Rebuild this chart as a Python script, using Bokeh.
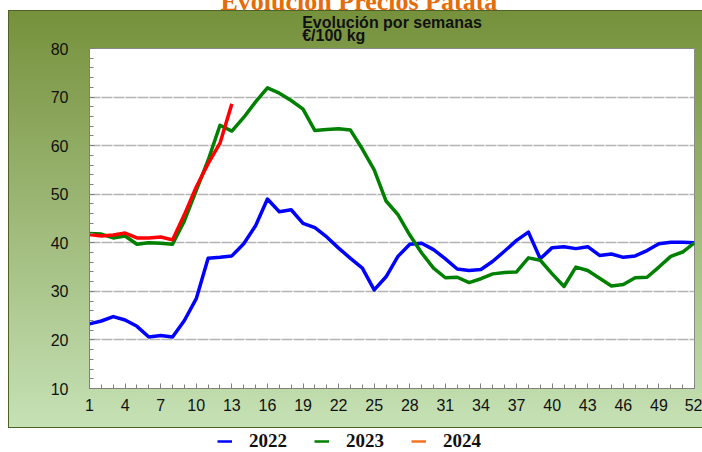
from bokeh.plotting import figure
from bokeh.layouts import column
from bokeh.models import FixedTicker, Legend, LegendItem, Title, Range1d
from bokeh.embed import file_html
from bokeh.resources import INLINE

weeks = list(range(1, 53))
weeks_2024 = list(range(1, 14))
y2022 = [23.3, 23.9, 24.8, 24.1, 22.8, 20.6, 20.9, 20.6, 24.0, 28.5,
         36.8, 37.0, 37.3, 39.8, 43.5, 49.0, 46.4, 46.8, 44.0, 43.1,
         41.2, 38.9, 36.8, 34.8, 30.3, 33.0, 37.2, 39.7, 39.9, 38.6,
         36.7, 34.6, 34.3, 34.5, 36.2, 38.3, 40.5, 42.2, 36.7, 39.0,
         39.2, 38.8, 39.2, 37.4, 37.7, 37.0, 37.3, 38.4, 39.8, 40.1,
         40.1, 40.0]
y2023 = [41.9, 41.8, 41.0, 41.4, 39.7, 40.0, 39.9, 39.7, 44.5, 50.8,
         57.0, 64.2, 63.0, 65.8, 69.0, 71.9, 70.8, 69.3, 67.5, 63.1,
         63.3, 63.5, 63.2, 59.3, 55.0, 48.6, 45.8, 41.6, 37.9, 34.8,
         32.8, 32.9, 31.8, 32.6, 33.6, 33.9, 34.0, 36.9, 36.4, 33.6,
         31.0, 35.0, 34.3, 32.7, 31.1, 31.4, 32.8, 32.9, 35.0, 37.2,
         38.1, 40.0]
y2024 = [41.7, 41.4, 41.6, 42.0, 41.0, 41.0, 41.2, 40.6, 45.8, 51.5,
         56.3, 60.5, 68.6]
series_labels = ["2022", "2023", "2024"]
x_ticks = list(range(1, 53, 3))
y_ticks = list(range(10, 81, 10))

H = 24  # extra canvas above the window, hidden by a negative margin
p = figure(width=702, height=430 + H, x_range=Range1d(1, 52), y_range=Range1d(10, 80),
           output_backend="svg", toolbar_location=None,
           min_border_left=89, min_border_right=8, min_border_top=48 + H, min_border_bottom=42)
p.title_location = None
p.margin = (-H, 0, 0, 0)
p.styles = {"background": "linear-gradient(#76913b, #c6e1b5) 9px 35px / 700px 416px no-repeat, "
                          "linear-gradient(#4e6128, #4e6128) 8px 34px / 702px 418px no-repeat, white"}
p.border_fill_color = None
p.background_fill_color = "white"
p.outline_line_color = "#8a8a8a"

p.xgrid.visible = False
p.ygrid.grid_line_color = "#b4b4b4"
p.ygrid.grid_line_width = 1.5
p.ygrid.grid_line_dash = "11 1"

p.xaxis.ticker = FixedTicker(ticks=x_ticks, minor_ticks=weeks)
p.yaxis.ticker = FixedTicker(ticks=y_ticks, minor_ticks=list(range(10, 81, 2)))
for ax in (p.xaxis[0], p.yaxis[0]):
    ax.axis_line_color = "#808080"
    ax.major_tick_line_color = "#808080"
    ax.minor_tick_line_color = "#808080"
    ax.major_tick_in = 5
    ax.major_tick_out = 0
    ax.minor_tick_in = 4
    ax.minor_tick_out = 0
    ax.major_label_text_font = "Liberation Sans"
    ax.major_label_text_font_size = "16px"
    ax.major_label_text_color = "#111111"
p.xaxis.major_label_standoff = 10
p.yaxis.major_label_standoff = 21

p.line(weeks, y2022, line_color="#0000ff", line_width=3.5, line_join="round")
p.line(weeks, y2023, line_color="#008000", line_width=3.5, line_join="round")
p.line(weeks_2024, y2024, line_color="#ff0000", line_width=3.5, line_join="round")

inner_title = Title(text="Evolución por semanas\n€/100 kg", align="center", vertical_align="bottom",
                    standoff=8, text_font="Liberation Sans", text_font_style="bold",
                    text_font_size="16px", text_color="#111111", text_line_height=0.78)
p.add_layout(inner_title, "above")
main_title = Title(text="Evolución Precios Patata", align="left", offset=131, vertical_align="bottom",
                   standoff=-14, text_font="Liberation Serif", text_font_style="bold",
                   text_font_size="26px", text_color="#e46c0a")
p.add_layout(main_title, "above")

# legend strip below the chart frame (its series are out of view; only swatches show)
p2 = figure(width=702, height=22, x_range=Range1d(1, 52), y_range=Range1d(100, 200),
            output_backend="svg", toolbar_location=None, x_axis_type=None, y_axis_type=None,
            min_border_left=0, min_border_right=0, min_border_top=0, min_border_bottom=0)
p2.title_location = None
p2.outline_line_color = None
p2.background_fill_color = None
p2.border_fill_color = None
r1 = p2.line(weeks, y2022, line_color="#0000ff", line_width=2.5)
r2 = p2.line(weeks, y2023, line_color="#008000", line_width=2.5)
r3 = p2.line(weeks_2024, y2024, line_color="#f47321", line_width=2.5)
legend = Legend(items=[LegendItem(label=series_labels[0], renderers=[r1]),
                       LegendItem(label=series_labels[1], renderers=[r2]),
                       LegendItem(label=series_labels[2], renderers=[r3])],
                orientation="horizontal", location=(128, 0),
                background_fill_alpha=0, border_line_color=None,
                label_text_font="Liberation Serif", label_text_font_style="bold",
                label_text_font_size="19px", label_text_color="#111111",
                glyph_width=15, glyph_height=18, label_standoff=17, spacing=27,
                padding=0, margin=0)
p2.add_layout(legend)

layout = column(p, p2, spacing=0)
open("out.html", "w").write(file_html(layout, INLINE))
